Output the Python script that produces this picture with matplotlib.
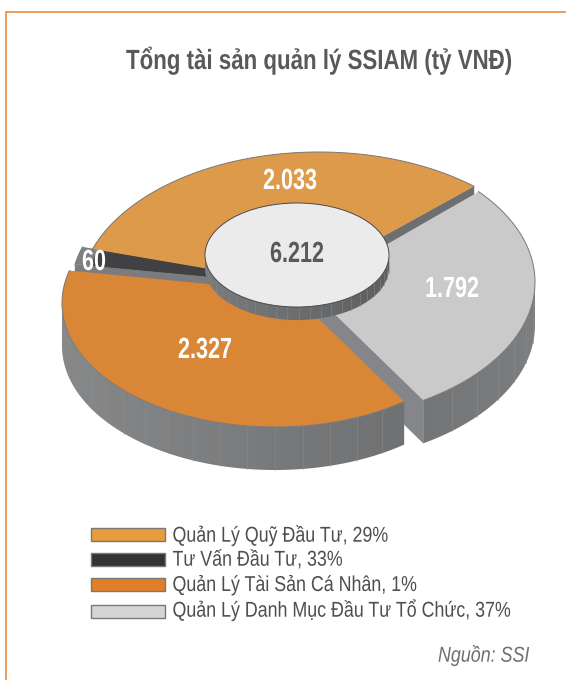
import numpy as np
import matplotlib
matplotlib.use("Agg")
import matplotlib.pyplot as plt
from matplotlib.patches import Polygon, Rectangle, Ellipse
from matplotlib.patheffects import AbstractPathEffect
from matplotlib.transforms import Affine2D
from matplotlib.colors import LinearSegmentedColormap

# ---- data ----
title = "Tổng tài sản quản lý SSIAM (tỷ VNĐ)"
segments = ["Quản Lý Quỹ Đầu Tư", "Tư Vấn Đầu Tư", "Quản Lý Tài Sản Cá Nhân", "Quản Lý Danh Mục Đầu Tư Tổ Chức"]
values = [2033, 60, 2327, 1792]
value_labels = ["2.033", "60", "2.327", "1.792"]
legend_pct = [29, 33, 1, 37]
total_label = "6.212"
source = "Nguồn: SSI"

# ---- styles ----
top_cols = ["#DD9A4B", "#414042", "#D98636", "#CACACA"]
leg_cols = ["#E89B3A", "#333334", "#E07F26", "#D4D5D7"]
TXT = "#58595B"
FONT = ["Liberation Sans", "DejaVu Sans"]
K = 0.59
D = 43
START = 45.0
nudge = [(-1.9, 1.0), (1.0, 4.7), (4.4, 0.2), (0.1, -0.8)]
apex = [(297, 284), (317, 287), (291, 292), (309, 289)]
ell = [(319, 297, 240, 145), (295, 290, 207, 128), (275, 303, 213, 124), (300, 282, 235, 139)]


class HScale(AbstractPathEffect):
    """Squeeze a text horizontally about a pivot: no condensed family is installed."""

    def __init__(self, sx, pivot):
        super().__init__()
        self.sx = sx
        self.pivot = pivot

    def draw_path(self, renderer, gc, tpath, affine, rgbFace=None):
        squeeze = Affine2D().translate(-self.pivot, 0).scale(self.sx, 1).translate(self.pivot, 0)
        renderer.draw_path(gc, tpath, affine + squeeze, rgbFace)


fig = plt.figure(figsize=(5.66, 6.8), dpi=100)
ax = fig.add_axes([0, 0, 1, 1])
ax.set_xlim(0, 566)
ax.set_ylim(680, 0)
ax.axis("off")
ax.set_autoscale_on(False)
renderer = fig.canvas.get_renderer()


def label(left, y, s, size, sx, color, weight="normal", style="normal", z=10):
    t = ax.text(left, y, s, color=color, family=FONT, weight=weight, style=style, fontsize=size,
                ha="center", va="baseline", zorder=z)
    w = t.get_window_extent(renderer).width
    cx = left + sx * w / 2
    t.set_x(cx)
    t.set_path_effects([HScale(sx, cx)])


# boundaries derived from the values
sweep = np.array(values) / sum(values) * 360.0
bounds = START + np.concatenate([[0], np.cumsum(sweep)])
theta = [(bounds[i] + nudge[i][0], bounds[i + 1] + nudge[i][1]) for i in range(4)]


def hit(a, th, e):
    cx, cy, rx, ry = e
    d = np.array([np.cos(np.radians(th)), -K * np.sin(np.radians(th))])
    p = np.array([(a[0] - cx) / rx, (a[1] - cy) / ry])
    q = np.array([d[0] / rx, d[1] / ry])
    A, B, C = q @ q, 2 * p @ q, p @ p - 1
    s = (-B + np.sqrt(B * B - 4 * A * C)) / (2 * A)
    x, y = a[0] + s * d[0], a[1] + s * d[1]
    t = np.degrees(np.arctan2(-(y - cy) / ry, (x - cx) / rx)) % 360
    while t < th - 180:
        t += 360
    return t


def arc(e, t0, t1, n=120):
    t = np.radians(np.linspace(t0, t1, n))
    return np.column_stack([e[0] + e[2] * np.cos(t), e[1] - e[3] * np.sin(t)])


def wall(e, t0, t1, depth, c0, c1, stripe, step, z):
    pts = arc(e, t0, t1, 200)
    poly = Polygon(np.vstack([pts, pts[::-1] + [0, depth]]), closed=True, fc="none", ec="none",
                   transform=ax.transData)
    ax.add_patch(poly)
    x0, x1 = pts[:, 0].min(), pts[:, 0].max()
    y0, y1 = pts[:, 1].min(), pts[:, 1].max() + depth
    cmap = LinearSegmentedColormap.from_list("w", [c0, c1])
    im = ax.imshow(np.linspace(0, 1, 64)[None, :], cmap=cmap, extent=(x0, x1, y1, y0),
                   aspect="auto", zorder=z, interpolation="bilinear")
    im.set_clip_path(poly)
    for t in np.arange(t0 + step, t1 - step / 2, step):
        p = arc(e, t, t, 1)[0]
        ax.plot([p[0], p[0]], [p[1], p[1] + depth], color=stripe, lw=0.4, zorder=z + 0.1)


def cut_face(a, th, e, depth, col, z):
    t = hit(a, th, e)
    p = arc(e, t, t, 1)[0]
    poly = [a, tuple(p), (p[0], p[1] + depth), (a[0], a[1] + depth)]
    ax.add_patch(Polygon(poly, closed=True, fc=col, ec=col, lw=0.3, zorder=z))


def wedge(a, th0, th1, e, col, z, edge="#77787A"):
    t0, t1 = hit(a, th0, e), hit(a, th1, e)
    while t1 < t0:
        t1 += 360
    pts = arc(e, t0, t1)
    ax.add_patch(Polygon(np.vstack([[a], pts]), closed=True, fc=col, ec="none", zorder=z))
    ax.plot(pts[:, 0], pts[:, 1], color=edge, lw=0.7, zorder=z + 0.05)


# amber right cut face
cut_face(apex[0], theta[0][0], ell[0], D, "#6E6F71", 1)

# grey slice: cut face, outer wall, top
cut_face(apex[3], theta[3][0], ell[3], D, "#85868A", 2)
g0 = hit(apex[3], theta[3][0], ell[3])
wall(ell[3], g0, 360, D, "#747577", "#7D7E80", "#8A8B8D", 8.5, 2.5)
wedge(apex[3], theta[3][0], theta[3][1], ell[3], top_cols[3], 3)

# small slice: backing and cut face, then its top
back = (ell[1][0], ell[1][1], ell[1][2] + 17, ell[1][3] + 8)
cut_face(apex[1], theta[1][1], back, D, "#7B7C7E", 4)
wedge(apex[1], theta[1][0], theta[1][1], back, "#7F8082", 4.2)
wedge(apex[1], theta[1][0], theta[1][1], ell[1], top_cols[1], 4.4, edge=top_cols[1])

# amber top
wedge(apex[0], theta[0][0], theta[0][1], ell[0], top_cols[0], 5)

# orange wall and top
o1 = hit(apex[2], theta[2][1], ell[2])
wall(ell[2], 180, o1, D, "#878889", "#707173", "#8F8A84", 7.5, 6)
wedge(apex[2], theta[2][0], theta[2][1], ell[2], top_cols[2], 7)

# hub
hub = (297, 255, 92, 52)
wall(hub, 180, 360, 13, "#7A7B7D", "#5E5F61", "#85868A", 7, 8)
ax.add_patch(Ellipse((hub[0], hub[1]), 2 * hub[2], 2 * hub[3], fc="#ECEBEC", ec="#4A4A4C", lw=0.7, zorder=9))

# value labels
lab_xy = [(263, 189), (82, 270), (178, 358), (425, 297)]
for s, (x, y) in zip(value_labels, lab_xy):
    label(x, y, s, 21, 0.74, "white", weight="bold")
label(270, 262, total_label, 21, 0.74, TXT, weight="bold")

# title, frame
label(126, 69, title, 20, 0.802, TXT, weight="bold")
ax.plot([6, 6, 566], [680, 11.5, 11.5], color="#EE8A3C", lw=1.2, solid_joinstyle="miter")

# legend
rows = [534.5, 559.5, 584, 611.5]
base = [541.7, 565.7, 591, 616.7]
for seg, pct, col, y, b in zip(segments, legend_pct, leg_cols, rows, base):
    ax.add_patch(Rectangle((90.5, y - 6.5), 74, 13, fc=col, ec="#77787A", lw=1))
    label(172.5, b, f"{seg}, {pct}%", 15.5, 0.828, "#4D4E50")

label(438, 661.7, source, 15.5, 0.83, "#6D6E70", style="italic")

fig.savefig("out.png", dpi=100)
